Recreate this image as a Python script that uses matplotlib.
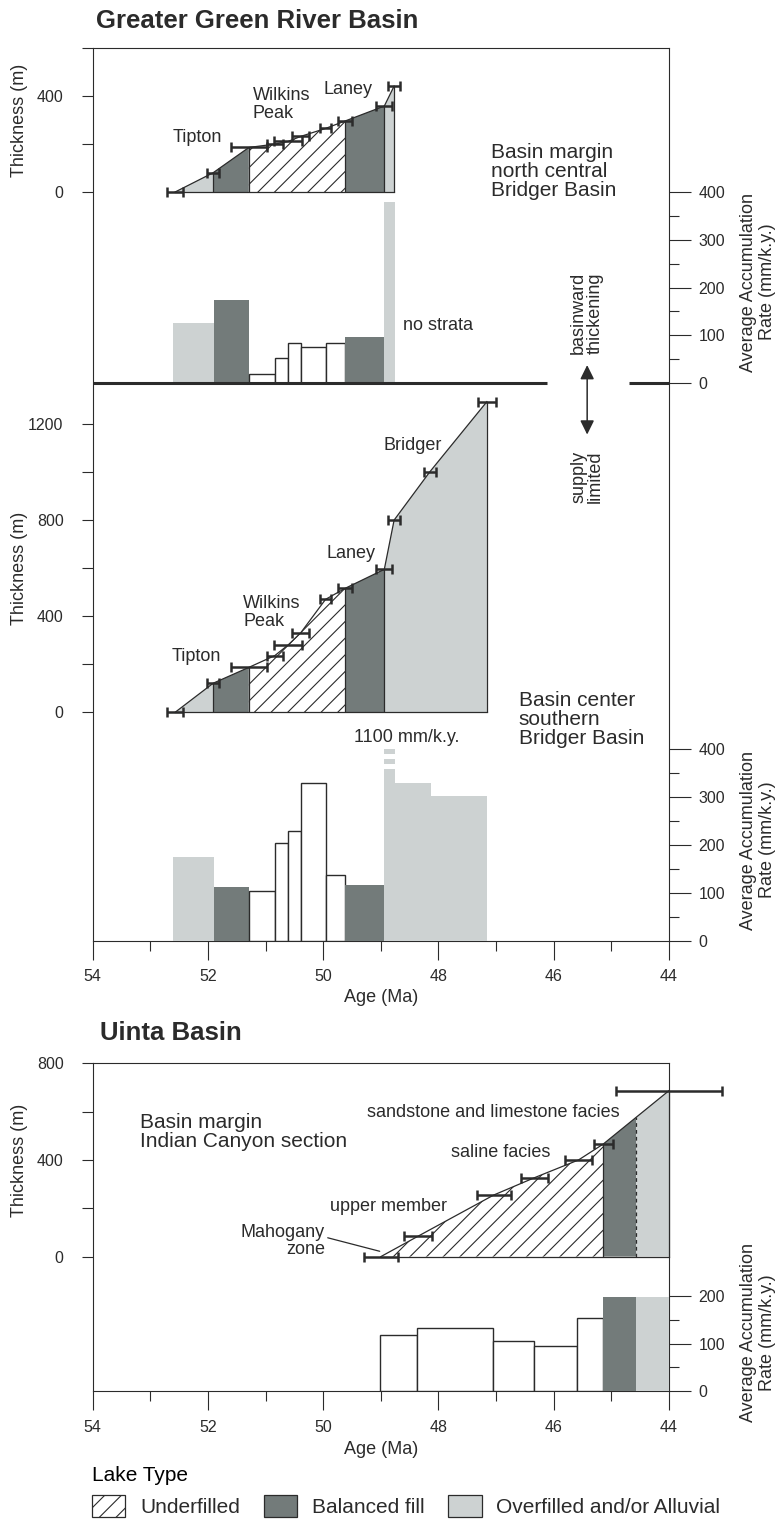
import numpy as np
import matplotlib
matplotlib.use("Agg")
import matplotlib.pyplot as plt
from matplotlib.patches import Patch, Polygon
from matplotlib.ticker import MultipleLocator

plt.rcParams['font.family'] = ['Liberation Sans', 'DejaVu Sans']
plt.rcParams['hatch.linewidth'] = 0.8
plt.rcParams['hatch.color'] = '#2b2b2b'

W, H = 779, 1527
INK = '#2b2b2b'
FILLS = {'u': 'white', 'b': '#737b7a', 'o': '#cdd2d2'}
HATCH = '//'

# Greater Green River Basin - basin margin, north central Bridger Basin
margin_age = [52.57, 51.91, 51.29, 50.84, 50.61, 50.39, 49.96, 49.62, 48.94, 48.77]
margin_thick = [0, 80, 185, 199, 210, 231, 264, 295, 357, 440]
margin_err = [0.14, 0.10, 0.31, 0.14, 0.24, 0.15, 0.09, 0.12, 0.14, 0.10]
margin_cuts = [52.57, 51.91, 51.29, 49.62, 48.94, 48.77]
margin_types = ['o', 'b', 'u', 'b', 'o']
margin_rate_edges = [52.61, 51.89, 51.29, 50.84, 50.61, 50.39, 49.96, 49.62, 48.95, 48.75]
margin_rates = [126, 174, 19, 52, 85, 76, 85, 97, 378]
margin_rate_types = ['o', 'b', 'u', 'u', 'u', 'u', 'u', 'b', 'o']

# Greater Green River Basin - basin center, southern Bridger Basin
center_age = [52.57, 51.91, 51.29, 50.84, 50.61, 50.39, 49.96, 49.62, 48.94, 48.77, 48.15, 47.16]
center_thick = [0, 121, 187, 236, 280, 331, 470, 516, 595, 800, 1001, 1293]
center_err = [0.14, 0.10, 0.31, 0.14, 0.24, 0.15, 0.09, 0.12, 0.14, 0.10, 0.10, 0.16]
center_cuts = [52.57, 51.91, 51.29, 49.62, 48.94, 47.16]
center_types = ['o', 'b', 'u', 'b', 'o']
center_rate_edges = [52.61, 51.89, 51.29, 50.84, 50.61, 50.39, 49.96, 49.62, 48.95, 48.75, 48.13, 47.15]
center_rates = [175, 111, 103, 203, 229, 328, 136, 116, 1100, 328, 302]
center_rate_types = ['o', 'b', 'u', 'u', 'u', 'u', 'u', 'b', 'o', 'o', 'o']
break_bands = [(358, 369), (379, 389)]

# Uinta Basin - basin margin, Indian Canyon section
uinta_age = [49.0, 48.35, 47.04, 46.33, 45.57, 45.14, 44.0]
uinta_thick = [0, 85, 255, 327, 400, 466, 687]
uinta_err = [0.30, 0.24, 0.29, 0.23, 0.23, 0.17, 0.92]
uinta_cuts = [49.0, 45.14, 44.57, 44.0]
uinta_types = ['u', 'b', 'o']
uinta_rate_edges = [49.01, 48.38, 47.05, 46.34, 45.59, 45.15, 44.57, 44.0]
uinta_rates = [117, 133, 105, 95, 154, 198, 198]
uinta_rate_types = ['u', 'u', 'u', 'u', 'u', 'b', 'o']

fig = plt.figure(figsize=(W / 100, H / 100), dpi=100)


def add_axes(top, bottom, left=92.7, right=669.0):
    ax = fig.add_axes([left / W, 1 - bottom / H, (right - left) / W, (bottom - top) / H])
    ax.set_xlim(54, 44)
    ax.set_facecolor('none')
    return ax


def frame(top, bottom):
    ax = add_axes(top, bottom)
    ax.set_yticks([])
    ax.xaxis.set_major_locator(MultipleLocator(2))
    ax.xaxis.set_minor_locator(MultipleLocator(1))
    ax.xaxis.set_major_formatter(lambda v, p: f'{v:.0f}')
    ax.tick_params(axis='x', which='major', length=13.5, width=0.8, pad=7,
                   labelsize=11.5, colors=INK)
    ax.tick_params(axis='x', which='minor', length=7, width=0.8, colors=INK)
    for s in ax.spines.values():
        s.set_linewidth(0.8)
        s.set_color(INK)
    return ax


def overlay(top, bottom, ymax):
    ax = add_axes(top, bottom)
    ax.set_ylim(0, ymax)
    for s in ax.spines.values():
        s.set_visible(False)
    ax.tick_params(axis='x', bottom=False, labelbottom=False)
    return ax


def thickness_axis(zero_px, px_per_m, ymax, ticks):
    ax = overlay(zero_px - ymax * px_per_m, zero_px, ymax)
    ax.set_yticks(ticks)
    ax.set_yticklabels([f'{t}' if t % 400 == 0 else '' for t in ticks])
    ax.tick_params(axis='y', length=8, width=0.8, pad=13, labelsize=11.5, colors=INK)
    return ax


def rate_axis(top, bottom, ymax):
    ax = overlay(top, bottom, ymax)
    ax.yaxis.tick_right()
    ax.yaxis.set_major_locator(MultipleLocator(100))
    ax.yaxis.set_minor_locator(MultipleLocator(50))
    ax.tick_params(axis='y', which='major', length=15.8, width=0.8, pad=5.5,
                   labelsize=11.5, colors=INK)
    ax.tick_params(axis='y', which='minor', length=7.2, width=0.8, colors=INK)
    return ax


def draw_section(ax, ages, thick, err, cuts, types, dashed=()):
    a = np.array(ages)
    t = np.array(thick)
    order = np.argsort(a)

    def top_at(x):
        return np.interp(x, a[order], t[order])

    for old, young, kind in zip(cuts[:-1], cuts[1:], types):
        inner = [(x, y) for x, y in zip(ages, thick) if young < x < old]
        verts = [(old, 0), (old, top_at(old))] + inner + [(young, top_at(young)), (young, 0)]
        ax.add_patch(Polygon(verts, closed=True, facecolor=FILLS[kind], edgecolor=INK,
                             lw=0, hatch=HATCH if kind == 'u' else None, zorder=1))
    ax.plot(ages, thick, color=INK, lw=0.9, zorder=3, clip_on=False)
    ax.plot([cuts[0], cuts[-1]], [0, 0], color=INK, lw=0.9, zorder=3, clip_on=False)
    for c in cuts[1:]:
        ax.vlines(c, 0, top_at(c), colors=INK, lw=0.9, zorder=3, clip_on=False,
                  linestyles=(0, (3, 2.5)) if c in dashed else 'solid')
    ax.errorbar(ages, thick, xerr=err, fmt='none', ecolor=INK, elinewidth=1.8,
                capsize=3.6, capthick=1.8, zorder=4, clip_on=False)


def draw_rates(ax, edges, rates, types):
    for old, young, v, kind in zip(edges[:-1], edges[1:], rates, types):
        white = kind == 'u'
        ax.bar(old, v, width=young - old, align='edge', color=FILLS[kind],
               edgecolor=INK if white else 'none', lw=1.0 if white else 0, zorder=2)


def note(x, y, s, **kw):
    fig.text(x / W, 1 - y / H, s, color=INK, **kw)


# ---------------- Greater Green River Basin ----------------
box1 = frame(47.6, 940.6)

t1 = thickness_axis(192.0, 0.2407, 600, [0, 200, 400, 600])
draw_section(t1, margin_age, margin_thick, margin_err, margin_cuts, margin_types)
t1.text(52.18, 227, 'Tipton', fontsize=13, color=INK, ha='center', va='center')
t1.text(51.22, 363, 'Wilkins\nPeak', fontsize=13, color=INK, ha='left', va='center', linespacing=1.05)
t1.text(49.57, 426, 'Laney', fontsize=13, color=INK, ha='center', va='center')
t1.text(47.09, 85, 'Basin margin\nnorth central\nBridger Basin', fontsize=15, color=INK,
        ha='left', va='center', linespacing=1.0)

r1 = rate_axis(191.7, 383.3, 400)
draw_rates(r1, margin_rate_edges, margin_rates, margin_rate_types)
r1.hlines(0, 54, 46.12, colors=INK, lw=2.2, zorder=5, clip_on=False)
r1.hlines(0, 44.69, 44.0, colors=INK, lw=2.2, zorder=5, clip_on=False)
r1.text(48.62, 120, 'no strata', fontsize=13, color=INK, ha='left', va='center')
r1.text(45.42, 147, 'basinward\nthickening', fontsize=13, color=INK, rotation=90,
        ha='center', va='center', linespacing=1.0)
r1.annotate('', xy=(45.42, -107), xytext=(45.42, 38),
            arrowprops=dict(arrowstyle='<|-|>,head_length=0.85,head_width=0.42',
                            mutation_scale=10, color=INK, lw=1.1, shrinkA=0, shrinkB=0),
            annotation_clip=False)

t2 = thickness_axis(712.3, 0.24025, 1400, [0, 200, 400, 600, 800, 1000, 1200])
draw_section(t2, center_age, center_thick, center_err, center_cuts, center_types)
t2.text(52.20, 231, 'Tipton', fontsize=13, color=INK, ha='center', va='center')
t2.text(51.39, 415, 'Wilkins\nPeak', fontsize=13, color=INK, ha='left', va='center', linespacing=1.05)
t2.text(49.52, 659, 'Laney', fontsize=13, color=INK, ha='center', va='center')
t2.text(48.45, 1112, 'Bridger', fontsize=13, color=INK, ha='center', va='center')
t2.text(46.61, -28, 'Basin center\nsouthern\nBridger Basin', fontsize=15, color=INK,
        ha='left', va='center', linespacing=1.0)
t2.text(45.42, 981, 'supply\nlimited', fontsize=13, color=INK, rotation=90,
        ha='center', va='center', linespacing=1.0)

r2 = rate_axis(749.0, 940.6, 400)
draw_rates(r2, center_rate_edges, center_rates, center_rate_types)
for lo, hi in break_bands:
    r2.bar(48.95, hi - lo, bottom=lo, width=-0.2, align='edge', color='white', lw=0, zorder=3)
r2.text(48.56, 424, '1100 mm/k.y.', fontsize=13, color=INK, ha='center', va='center')

note(96, 28, 'Greater Green River Basin', fontsize=18.5, fontweight='bold', va='baseline')
note(20, 120, 'Thickness (m)', fontsize=13, rotation=90, ha='center', va='center')
note(20, 568, 'Thickness (m)', fontsize=13, rotation=90, ha='center', va='center')
note(758, 282, 'Average Accumulation\nRate (mm/k.y.)', fontsize=13, rotation=90,
     ha='center', va='center', multialignment='center')
note(758, 840, 'Average Accumulation\nRate (mm/k.y.)', fontsize=13, rotation=90,
     ha='center', va='center', multialignment='center')
note(381, 998, 'Age (Ma)', fontsize=13, ha='center', va='center')

# ---------------- Uinta Basin ----------------
box2 = frame(1063.0, 1391.3)

t3 = thickness_axis(1256.6, 0.2416, 800, [0, 200, 400, 600, 800])
draw_section(t3, uinta_age, uinta_thick, uinta_err, uinta_cuts, uinta_types, dashed=(44.57,))
t3.text(53.18, 515, 'Basin margin\nIndian Canyon section', fontsize=15, color=INK,
        ha='left', va='center', linespacing=1.0)
t3.text(47.05, 596, 'sandstone and limestone facies', fontsize=13, color=INK, ha='center', va='center')
t3.text(46.92, 430, 'saline facies', fontsize=13, color=INK, ha='center', va='center')
t3.text(47.86, 206, 'upper member', fontsize=13, color=INK, ha='right', va='center')
t3.annotate('Mahogany\nzone', xy=(49.02, 22), xytext=(49.97, 64), fontsize=13, color=INK,
            ha='right', va='center', multialignment='right', linespacing=1.0,
            arrowprops=dict(arrowstyle='-', color=INK, lw=0.9, shrinkA=0, shrinkB=0,
                            relpos=(1.0, 0.62)))

r3 = rate_axis(1295.9, 1391.3, 200)
draw_rates(r3, uinta_rate_edges, uinta_rates, uinta_rate_types)

note(100, 1040, 'Uinta Basin', fontsize=18.5, fontweight='bold', va='baseline')
note(20, 1160, 'Thickness (m)', fontsize=13, rotation=90, ha='center', va='center')
note(758, 1333, 'Average Accumulation\nRate (mm/k.y.)', fontsize=13, rotation=90,
     ha='center', va='center', multialignment='center')
note(381, 1450, 'Age (Ma)', fontsize=13, ha='center', va='center')

# ---------------- legend ----------------
handles = [Patch(facecolor=FILLS[k], edgecolor=INK, lw=0.9, hatch=HATCH if k == 'u' else None)
           for k in ['u', 'b', 'o']]
fig.legend(handles, ['Underfilled', 'Balanced fill', 'Overfilled and/or Alluvial'],
           ncol=3, loc='upper left', bbox_to_anchor=(92 / W, 1 - 1466 / H), frameon=False,
           fontsize=15, title='Lake Type', title_fontsize=15, alignment='left',
           handlelength=1.6, handleheight=1.2, handletextpad=0.7, columnspacing=1.15,
           borderpad=0, borderaxespad=0, labelcolor=INK)

fig.savefig('out.png', dpi=100)
